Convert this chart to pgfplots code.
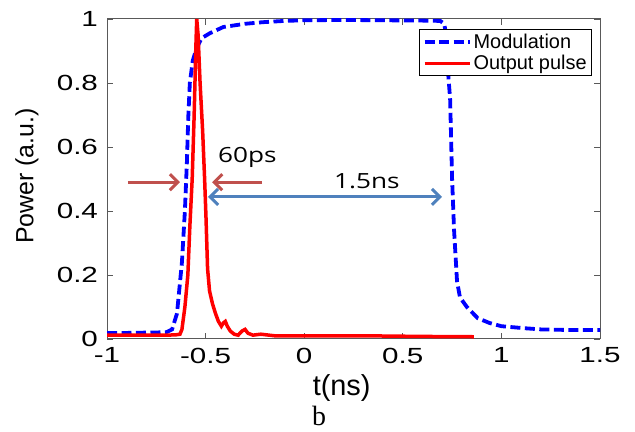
\documentclass[border=0pt]{standalone}
\usepackage{fontspec}
\setmainfont{Liberation Sans}
\newfontfamily\capfont{Liberation Serif}
\newfontfamily\annfont{Open Sans}
\usepackage{pgfplots}
\pgfplotsset{compat=1.18}
\usetikzlibrary{arrows.meta}
\definecolor{modblue}{RGB}{0,0,255}
\definecolor{pulsered}{RGB}{255,0,0}
\definecolor{arrred}{RGB}{192,80,77}
\definecolor{arrblue}{RGB}{79,129,189}
\begin{document}
\begin{tikzpicture}
\path[use as bounding box] (0,0) rectangle (635bp,432bp);
\begin{axis}[
  at={(107bp,93bp)}, anchor=south west,
  scale only axis, width=493bp, height=320bp,
  xmin=-1, xmax=1.5, ymin=0, ymax=1,
  xtick={-1,-0.5,0,0.5,1,1.5},
  ytick={0,0.2,0.4,0.6,0.8,1},
  tick align=inside, major tick length=6bp,
  axis line style={draw=black!65, line width=1bp},
  tick style={draw=black!65, line width=0.8bp},
  /pgf/number format/assume math mode=true,
  xticklabel style={font=\fontsize{22}{26}\selectfont, xscale=1.35, yshift=-6.5bp, inner sep=2bp},
  yticklabel style={font=\fontsize{22}{26}\selectfont, xscale=1.35, inner sep=2bp, xshift=-4.5bp},
  xlabel={t(ns)},
  xlabel style={at={(axis description cs:0.476,-0.175)}, anchor=base, font=\fontsize{29}{34}\selectfont},
  ylabel={Power (a.u.)},
  ylabel style={at={(axis description cs:-0.1623,0.509)}, anchor=center, font=\fontsize{25}{30}\selectfont},
  legend style={at={(rel axis cs:0.984,0.969)}, anchor=north east, draw=black, line width=1bp,
    fill=white, font=\fontsize{20}{22}\selectfont, inner xsep=3bp, inner ysep=2.5bp, row sep=1.5bp,
    cells={anchor=west}},
  legend cell align=left,
  legend image code/.code={\draw[#1] (0bp,0bp) -- (45bp,0bp);},
]
\addplot[modblue, line width=3.8bp, dash pattern=on 10bp off 4.5bp] coordinates {
(-1,0.019) (-0.9,0.019) (-0.8,0.02) (-0.7,0.021) (-0.67,0.03) (-0.645,0.08)
(-0.62,0.24) (-0.605,0.4) (-0.595,0.55) (-0.588,0.69) (-0.58,0.8) (-0.565,0.87)
(-0.545,0.91) (-0.52,0.94) (-0.48,0.955) (-0.41,0.975) (-0.3,0.985) (-0.21,0.99)
(-0.1,0.994) (0,0.996) (0.2,0.997) (0.4,0.996) (0.6,0.995) (0.69,0.994)
(0.71,0.985) (0.72,0.95) (0.73,0.83) (0.74,0.75) (0.75,0.5) (0.76,0.34)
(0.775,0.18) (0.79,0.13) (0.825,0.1) (0.88,0.065) (0.94,0.05) (1.0,0.04)
(1.11,0.034) (1.2,0.03) (1.35,0.028) (1.5,0.028)
};
\addlegendentry{Modulation}
\addplot[pulsered, line width=3.5bp] coordinates {
(-1,0.012) (-0.8,0.012) (-0.7,0.012) (-0.65,0.013) (-0.63,0.015) (-0.62,0.03)
(-0.605,0.1) (-0.59,0.2) (-0.58,0.35) (-0.568,0.5) (-0.558,0.7) (-0.55,0.9)
(-0.545,1.0) (-0.538,0.95) (-0.528,0.8) (-0.515,0.65) (-0.505,0.5) (-0.498,0.38)
(-0.49,0.22) (-0.48,0.15) (-0.465,0.11) (-0.45,0.08) (-0.435,0.055) (-0.42,0.04)
(-0.41,0.05) (-0.4,0.055) (-0.39,0.04) (-0.375,0.025) (-0.355,0.015) (-0.335,0.012)
(-0.315,0.025) (-0.3,0.03) (-0.285,0.018) (-0.26,0.012) (-0.22,0.015) (-0.15,0.01)
(0,0.01) (0.3,0.01) (0.6,0.008) (0.86,0.007)
};
\addlegendentry{Output pulse}
\draw[arrred, line width=3bp, -{Straight Barb[length=8bp,width=16bp]}] (axis cs:-0.894,0.49) -- (axis cs:-0.63,0.49);
\draw[arrred, line width=3bp, -{Straight Barb[length=8bp,width=16bp]}] (axis cs:-0.214,0.49) -- (axis cs:-0.467,0.49);
\draw[arrblue, line width=3bp, {Straight Barb[length=8bp,width=16bp]}-{Straight Barb[length=8bp,width=16bp]}] (axis cs:-0.488,0.444) -- (axis cs:0.699,0.444);
\node[anchor=base, font=\annfont\fontsize{21}{25}\selectfont, xscale=1.25] at (axis cs:-0.288,0.553) {60ps};
\node[anchor=base, font=\annfont\fontsize{21}{25}\selectfont, xscale=1.25] at (axis cs:0.318,0.469) {1.5ns};
\end{axis}
\node[anchor=base, font=\capfont\fontsize{28}{32}\selectfont] at (319bp,7bp) {b};
\end{tikzpicture}
\end{document}
